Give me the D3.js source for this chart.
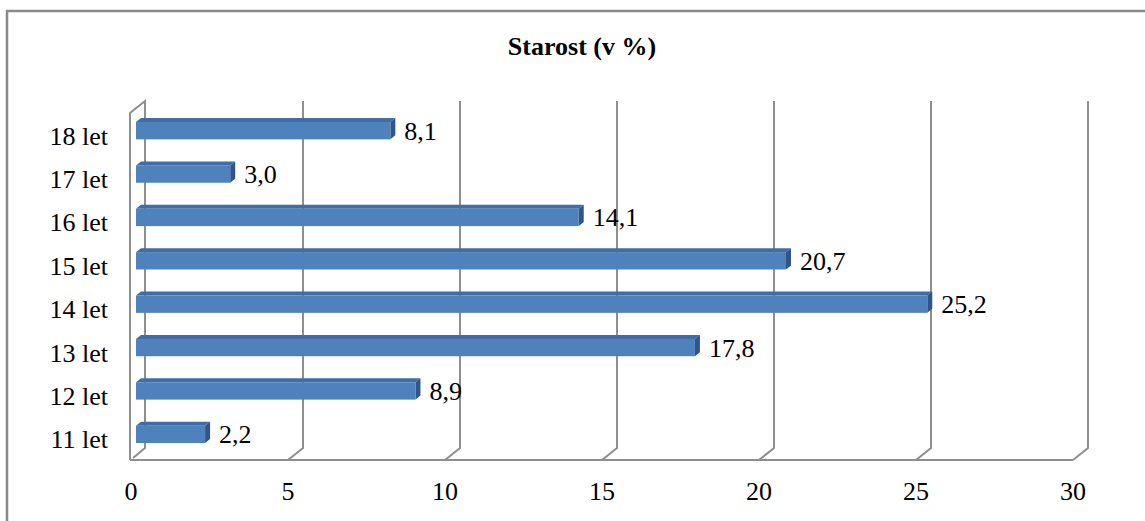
<!DOCTYPE html>
<html>
<head>
<meta charset="utf-8">
<script src="https://cdn.jsdelivr.net/npm/d3@7"></script>
<style>
  body { margin: 0; background: #fff; }
  text { font-family: "Liberation Serif", "Times New Roman", serif; fill: #000; }
</style>
</head>
<body>
<div id="chart"></div>
<script>
// chart data
const categories = ["11 let", "12 let", "13 let", "14 let", "15 let", "16 let", "17 let", "18 let"];
const values = [2.2, 8.9, 17.8, 25.2, 20.7, 14.1, 3.0, 8.1];
const xTicks = [0, 5, 10, 15, 20, 25, 30];
const title = "Starost (v %)";

const W = 1145, H = 521;
// 3d offset of the back wall against the front plane
const depth = {dx: 15, dy: -12};
const gridColor = "#8e8e8e";
const fontSize = "26px";

const svg = d3.select("#chart").append("svg")
    .attr("width", W)
    .attr("height", H);

// outer chart border (runs off the right / bottom edge)
svg.append("rect")
    .attr("x", 7).attr("y", 11)
    .attr("width", 1300).attr("height", 700)
    .attr("fill", "#fff")
    .attr("stroke", "#8a8a8a")
    .attr("stroke-width", 2.5);

svg.append("text")
    .attr("x", 582).attr("y", 55)
    .attr("text-anchor", "middle")
    .style("font-size", fontSize)
    .style("font-weight", "bold")
    .text(title);

const x = d3.scaleLinear().domain([0, 30]).range([131, 1073]);
const y = d3.scaleBand()
    .domain(categories.slice().reverse())
    .range([113, 460])
    .paddingInner(0).paddingOuter(0);

const yTop = y.range()[0], yBot = y.range()[1];

// left wall
svg.append("path")
    .attr("fill", "none")
    .attr("stroke", gridColor)
    .attr("stroke-width", 2)
    .attr("d", d3.line()([
        [x(0) - 1, yBot],
        [x(0) - 1, yTop],
        [x(0) - 1 + depth.dx, yTop + depth.dy],
        [x(0) - 1 + depth.dx, yBot + depth.dy],
        [x(0) - 1 + 3, yBot - 2]
    ]));

// back wall gridlines, each folding down to the floor
svg.append("g").selectAll("path")
    .data(xTicks.filter(d => d > 0))
    .join("path")
    .attr("fill", "none")
    .attr("stroke", gridColor)
    .attr("stroke-width", 2)
    .attr("d", d => d3.line()([
        [x(d) + depth.dx, yTop + depth.dy],
        [x(d) + depth.dx, yBot + depth.dy],
        [x(d), yBot]
    ]));

// floor front edge
svg.append("line")
    .attr("x1", x(0) - 1).attr("x2", x(30))
    .attr("y1", yBot).attr("y2", yBot)
    .attr("stroke", gridColor)
    .attr("stroke-width", 2);

// x tick labels
svg.append("g").selectAll("text")
    .data(xTicks)
    .join("text")
    .attr("x", d => x(d))
    .attr("y", 500)
    .attr("text-anchor", "middle")
    .style("font-size", fontSize)
    .text(d => d);

// category labels
svg.append("g").selectAll("text")
    .data(categories)
    .join("text")
    .attr("x", 108)
    .attr("y", d => y(d) + y.bandwidth() / 2 + 10)
    .attr("text-anchor", "end")
    .style("font-size", fontSize)
    .text(d => d);

// bars: front face at 1/3 depth, back at 2/3 depth
const bd = {dx: 5, dy: -4};
const barH = y.bandwidth() * 0.4;
const bars = svg.append("g").selectAll("g")
    .data(categories.map((c, i) => ({cat: c, v: values[i]})))
    .join("g");

const fx0 = () => x(0) + bd.dx;
const fx1 = d => x(d.v) + bd.dx;
const fy0 = d => y(d.cat) + y.bandwidth() / 2 + bd.dy - barH / 2;

// top face
bars.append("path")
    .attr("fill", "#3f6da6")
    .attr("d", d => d3.line()([
        [fx0(), fy0(d)],
        [fx0() + bd.dx, fy0(d) + bd.dy],
        [fx1(d) + bd.dx, fy0(d) + bd.dy],
        [fx1(d), fy0(d)]
    ]) + "Z");

// side face
bars.append("path")
    .attr("fill", "#2f5686")
    .attr("d", d => d3.line()([
        [fx1(d), fy0(d)],
        [fx1(d) + bd.dx, fy0(d) + bd.dy],
        [fx1(d) + bd.dx, fy0(d) + bd.dy + barH],
        [fx1(d), fy0(d) + barH]
    ]) + "Z");

// front face
bars.append("rect")
    .attr("x", fx0())
    .attr("y", d => fy0(d))
    .attr("width", d => fx1(d) - fx0())
    .attr("height", barH)
    .attr("fill", "#4f81bd");

// value labels
const fmt = d3.format(".1f");
bars.append("text")
    .attr("x", d => fx1(d) + 14)
    .attr("y", d => fy0(d) + barH / 2 + 9)
    .style("font-size", fontSize)
    .text(d => fmt(d.v).replace(".", ","));
</script>
</body>
</html>
